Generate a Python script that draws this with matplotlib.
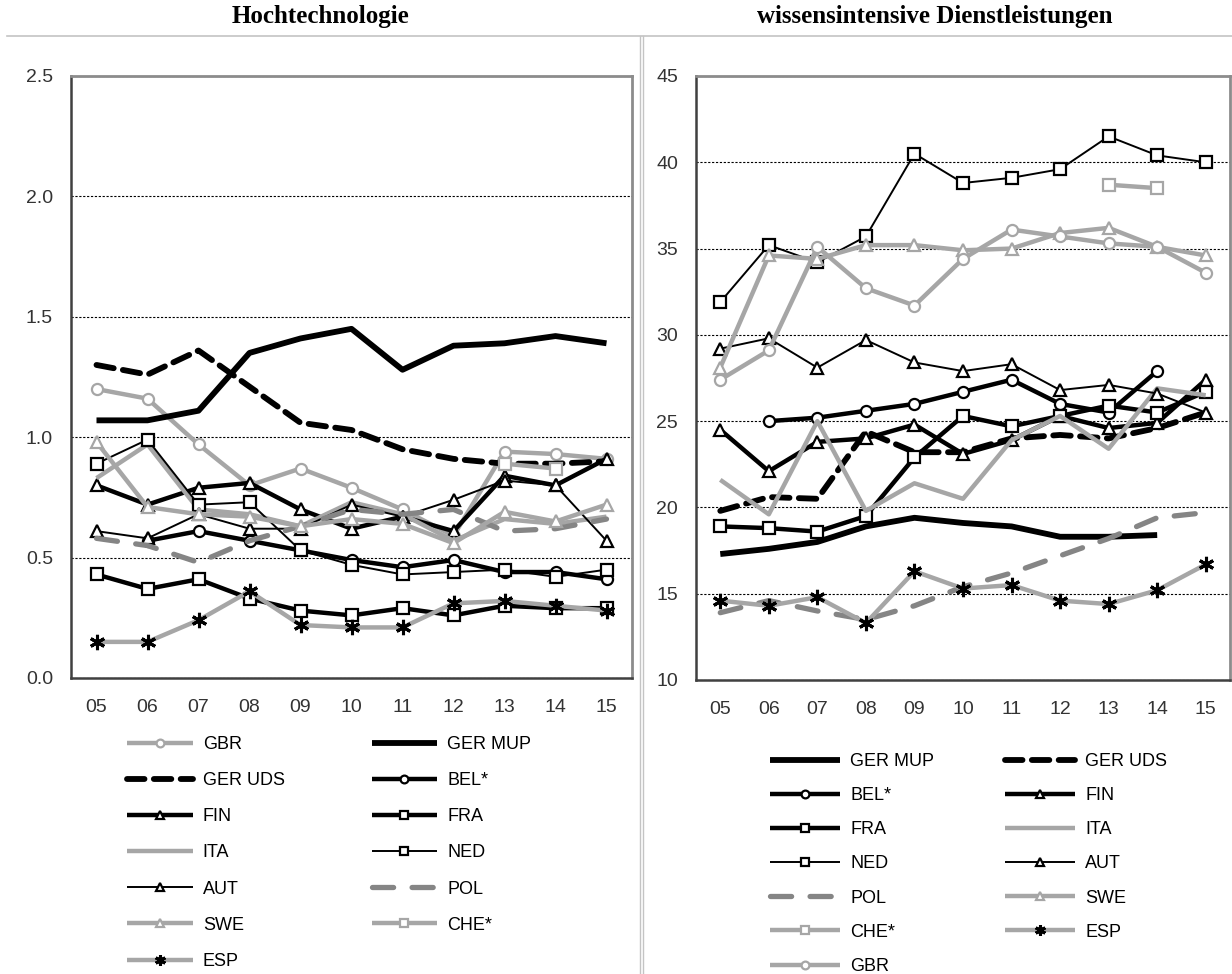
import numpy as np
import matplotlib
matplotlib.use("Agg")
import matplotlib.pyplot as plt
from matplotlib.lines import Line2D

nan = np.nan
years = ["05", "06", "07", "08", "09", "10", "11", "12", "13", "14", "15"]

# Hochtechnologie
ht_gbr = [1.20, 1.16, 0.97, 0.80, 0.87, 0.79, 0.70, 0.59, 0.94, 0.93, 0.91]
ht_ger_mup = [1.07, 1.07, 1.11, 1.35, 1.41, 1.45, 1.28, 1.38, 1.39, 1.42, 1.39]
ht_ger_uds = [1.30, 1.26, 1.36, 1.21, 1.06, 1.03, 0.95, 0.91, 0.89, 0.89, 0.90]
ht_bel = [nan, 0.57, 0.61, 0.57, 0.53, 0.49, 0.46, 0.49, 0.44, 0.44, 0.41]
ht_fin = [0.80, 0.72, 0.79, 0.81, 0.70, 0.62, 0.67, 0.61, 0.84, 0.80, 0.91]
ht_fra = [0.43, 0.37, 0.41, 0.33, 0.28, 0.26, 0.29, 0.26, 0.30, 0.29, 0.29]
ht_ita = [0.83, 0.97, 0.70, 0.68, 0.63, 0.73, 0.68, 0.57, 0.66, 0.64, 0.67]
ht_ned = [0.89, 0.99, 0.72, 0.73, 0.53, 0.47, 0.43, 0.44, 0.45, 0.42, 0.45]
ht_aut = [0.61, 0.58, 0.68, 0.62, 0.62, 0.72, 0.67, 0.74, 0.82, 0.80, 0.57]
ht_pol = [0.58, 0.55, 0.48, 0.57, 0.63, 0.70, 0.68, 0.70, 0.61, 0.62, 0.66]
ht_swe = [0.98, 0.71, 0.68, 0.67, 0.63, 0.66, 0.64, 0.56, 0.69, 0.65, 0.72]
ht_che = [nan, nan, nan, nan, nan, nan, nan, nan, 0.89, 0.87, nan]
ht_esp = [0.15, 0.15, 0.24, 0.36, 0.22, 0.21, 0.21, 0.31, 0.32, 0.30, 0.28]

# wissensintensive Dienstleistungen
wd_ger_mup = [17.3, 17.6, 18.0, 18.9, 19.4, 19.1, 18.9, 18.3, 18.3, 18.4, nan]
wd_ger_uds = [19.8, 20.6, 20.5, 24.4, 23.2, 23.2, 24.0, 24.2, 24.0, 24.6, 25.5]
wd_bel = [nan, 25.0, 25.2, 25.6, 26.0, 26.7, 27.4, 26.0, 25.5, 27.9, nan]
wd_fin = [24.5, 22.1, 23.8, 24.0, 24.8, 23.1, 23.9, 25.3, 24.6, 24.9, 27.4]
wd_fra = [18.9, 18.8, 18.6, 19.5, 22.9, 25.3, 24.7, 25.3, 25.9, 25.5, 26.7]
wd_ita = [21.6, 19.6, 25.0, 19.8, 21.4, 20.5, 23.9, 25.3, 23.4, 26.9, 26.5]
wd_ned = [31.9, 35.2, 34.2, 35.7, 40.5, 38.8, 39.1, 39.6, 41.5, 40.4, 40.0]
wd_aut = [29.2, 29.8, 28.1, 29.7, 28.4, 27.9, 28.3, 26.8, 27.1, 26.6, 25.5]
wd_pol = [13.9, 14.6, 14.0, 13.5, 14.3, 15.4, 16.2, 17.2, 18.2, 19.4, 19.7]
wd_swe = [28.1, 34.6, 34.4, 35.2, 35.2, 34.9, 35.0, 35.9, 36.2, 35.1, 34.6]
wd_che = [nan, nan, nan, nan, nan, nan, nan, nan, 38.7, 38.5, nan]
wd_esp = [14.6, 14.3, 14.8, 13.3, 16.3, 15.3, 15.5, 14.6, 14.4, 15.2, 16.7]
wd_gbr = [27.4, 29.1, 35.1, 32.7, 31.7, 34.4, 36.1, 35.7, 35.3, 35.1, 33.6]

ht_yticks = [0.0, 0.5, 1.0, 1.5, 2.0, 2.5]
wd_yticks = [10, 15, 20, 25, 30, 35, 40, 45]

plt.rcParams['font.family'] = ['Liberation Sans', 'DejaVu Sans']

BLACK = 'black'
LGRAY = '#a6a6a6'
DGRAY = '#858585'

styles = {
    'GER MUP': dict(color=BLACK, lw=4.2),
    'GER UDS': dict(color=BLACK, lw=4.2, ls=(0, (3.0, 1.6))),
    'BEL*': dict(color=BLACK, lw=3.2, marker='o', ms=8, mfc='white', mec=BLACK, mew=1.6),
    'FIN': dict(color=BLACK, lw=3.2, marker='^', ms=9, mfc='white', mec=BLACK, mew=1.6),
    'FRA': dict(color=BLACK, lw=3.2, marker='s', ms=8.5, mfc='white', mec=BLACK, mew=1.6),
    'ITA': dict(color=LGRAY, lw=3.2),
    'NED': dict(color=BLACK, lw=1.4, marker='s', ms=8.5, mfc='white', mec=BLACK, mew=1.6),
    'AUT': dict(color=BLACK, lw=1.4, marker='^', ms=9, mfc='white', mec=BLACK, mew=1.6),
    'POL': dict(color=DGRAY, lw=3.8, ls=(0, (4.0, 3.5))),
    'SWE': dict(color=LGRAY, lw=3.2, marker='^', ms=9, mfc='white', mec=LGRAY, mew=1.6),
    'CHE*': dict(color=LGRAY, lw=3.2, marker='s', ms=8.5, mfc='white', mec=LGRAY, mew=1.6),
    'ESP': dict(color=LGRAY, lw=3.2, marker=(6, 2, 0), ms=11, mec=BLACK, mew=2.2),
    'GBR': dict(color=LGRAY, lw=3.2, marker='o', ms=8, mfc='white', mec=LGRAY, mew=1.6),
}

left_series = [('GBR', ht_gbr), ('GER MUP', ht_ger_mup), ('GER UDS', ht_ger_uds),
               ('BEL*', ht_bel), ('FIN', ht_fin), ('FRA', ht_fra), ('ITA', ht_ita),
               ('NED', ht_ned), ('AUT', ht_aut), ('POL', ht_pol), ('SWE', ht_swe),
               ('CHE*', ht_che), ('ESP', ht_esp)]
right_series = [('GER MUP', wd_ger_mup), ('GER UDS', wd_ger_uds), ('BEL*', wd_bel),
                ('FIN', wd_fin), ('FRA', wd_fra), ('ITA', wd_ita), ('NED', wd_ned),
                ('AUT', wd_aut), ('POL', wd_pol), ('SWE', wd_swe), ('CHE*', wd_che),
                ('ESP', wd_esp), ('GBR', wd_gbr)]

W, H = 1232, 974
fig = plt.figure(figsize=(W / 100, H / 100), dpi=100)

ax1 = fig.add_axes([71 / W, 1 - 678 / H, 561 / W, 602 / H])
ax2 = fig.add_axes([696 / W, 1 - 680 / H, 534 / W, 604 / H])


def draw_panel(ax, series, yticks, fmt):
    x = np.arange(len(years))
    for name, vals in series:
        ax.plot(x, vals, label=name, solid_capstyle='butt', dash_capstyle='round',
                **styles[name])
    ax.set_xlim(-0.5, len(years) - 0.5)
    ax.set_ylim(yticks[0], yticks[-1])
    ax.set_xticks(x)
    ax.set_xticklabels(years)
    ax.set_yticks(yticks)
    ax.set_yticklabels([fmt.format(t) for t in yticks])
    ax.tick_params(length=0, labelsize=14, colors='#333333')
    ax.tick_params(axis='x', pad=15)
    ax.tick_params(axis='y', pad=13)
    ax.yaxis.grid(True, color='black', ls=(0, (2, 1.5)), lw=0.8)
    ax.set_axisbelow(True)
    for side in ['top', 'right']:
        ax.spines[side].set_color('#8c8c8c')
        ax.spines[side].set_linewidth(2)
    for side in ['left', 'bottom']:
        ax.spines[side].set_color('#404040')
        ax.spines[side].set_linewidth(1.8)


draw_panel(ax1, left_series, ht_yticks, "{:.1f}")
draw_panel(ax2, right_series, wd_yticks, "{:d}")


def add_legend(ax, anchor, colsp, hlen, lsp):
    h, l = ax.get_legend_handles_labels()
    order = list(range(0, len(h), 2)) + list(range(1, len(h), 2))
    fig.legend([h[i] for i in order], [l[i] for i in order], ncol=2,
               loc='upper left', bbox_to_anchor=anchor, bbox_transform=fig.transFigure,
               frameon=False, fontsize=13, handlelength=hlen, handletextpad=0.55,
               columnspacing=colsp, labelspacing=lsp, markerscale=0.7,
               borderpad=0, borderaxespad=0)


add_legend(ax1, (127 / W, 1 - 736 / H), 4.8, 3.65, 1.06)
add_legend(ax2, (770 / W, 1 - 753 / H), 3.9, 3.9, 0.95)

# titles and separators
fig.text(321 / W, 1 - 17 / H, 'Hochtechnologie', ha='center', va='center',
         family='Liberation Serif', fontweight='bold', fontsize=18)
fig.text(935 / W, 1 - 17 / H, 'wissensintensive Dienstleistungen', ha='center',
         va='center', family='Liberation Serif', fontweight='bold', fontsize=18)
fig.add_artist(Line2D([7 / W, 1], [1 - 36 / H] * 2, color='#c4c4c4', lw=1.2))
for xv in (639.5, 642.5):
    fig.add_artist(Line2D([xv / W] * 2, [1 - 36 / H, 0], color='#c4c4c4', lw=1.0))

fig.savefig('out.png', dpi=100)
